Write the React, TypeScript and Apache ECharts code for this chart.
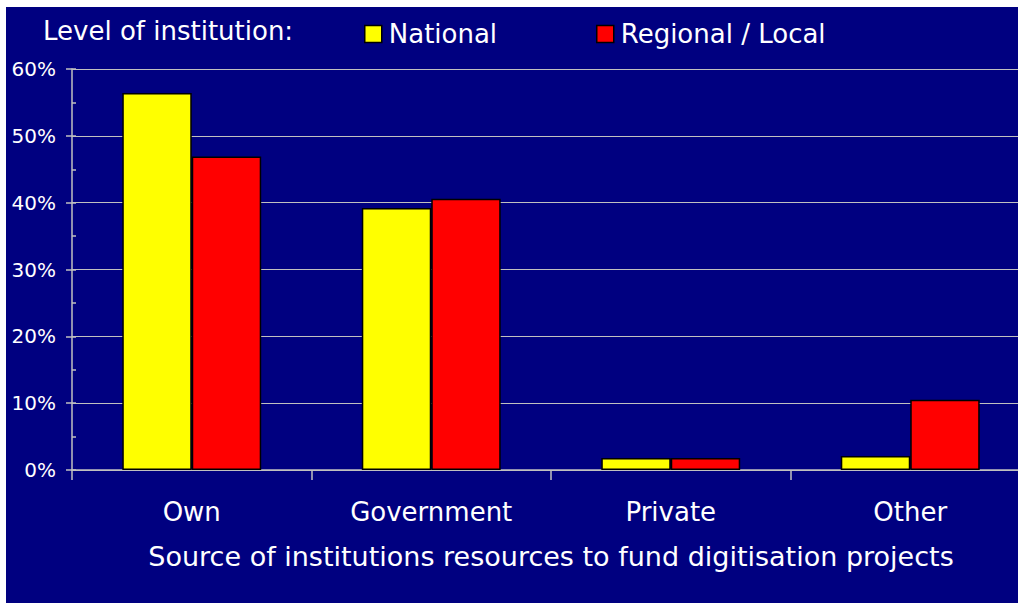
import React, { useEffect, useRef } from "react";
import * as echarts from "echarts";

const categories = ["Own", "Government", "Private", "Other"];
const nationalValues = [56.4, 39.2, 1.8, 2.1];
const regionalValues = [46.9, 40.6, 1.8, 10.5];
const seriesNames = ["National", "Regional / Local"];
const yTickValues = [0, 10, 20, 30, 40, 50, 60];
const titleText = "Level of institution:";
const xAxisTitle = "Source of institutions resources to fund digitisation projects";

const FONT = "'DejaVu Sans', Verdana, sans-serif";
const TXT = "#ffffff";
const GRID = "#c0c0c0";

export default function App() {
  const ref = useRef<HTMLDivElement>(null);
  useEffect(() => {
    if (!ref.current) return;
    const chart = echarts.init(ref.current, undefined, { renderer: "svg" });
    const yMax = yTickValues[yTickValues.length - 1];
    chart.setOption({
      animation: false,
      backgroundColor: "#000080",
      textStyle: { fontFamily: FONT },
      title: {
        text: titleText,
        left: 32,
        top: 6,
        textStyle: { color: TXT, fontSize: 26, fontWeight: "normal", fontFamily: FONT },
      },
      legend: [
        {
          data: [seriesNames[0]],
          left: 353,
          top: 9,
          itemWidth: 17,
          itemHeight: 17,
          itemGap: 10,
          icon: "rect",
          textStyle: { color: TXT, fontSize: 26, fontFamily: FONT, padding: [0, 0, 0, 2] },
          itemStyle: { borderColor: "#000", borderWidth: 1.5 },
        },
        {
          data: [seriesNames[1]],
          left: 585,
          top: 9,
          itemWidth: 17,
          itemHeight: 17,
          icon: "rect",
          textStyle: { color: TXT, fontSize: 26, fontFamily: FONT, padding: [0, 0, 0, 2] },
          itemStyle: { borderColor: "#000", borderWidth: 1.5 },
        },
      ],
      grid: { left: 66, top: 62, bottom: 133, right: 16, containLabel: false },
      xAxis: {
        type: "category",
        data: categories,
        axisLine: { show: true, lineStyle: { color: GRID, width: 1.5 } },
        axisTick: { show: true, length: 10, lineStyle: { color: GRID, width: 1.5 } },
        axisLabel: { color: TXT, fontSize: 26, fontFamily: FONT, margin: 29 },
        name: xAxisTitle,
        nameLocation: "middle",
        nameGap: 73,
        nameTextStyle: { color: TXT, fontSize: 27, fontFamily: FONT },
      },
      yAxis: [
        {
          type: "value",
          min: 0,
          max: yMax,
          interval: 10,
          axisLine: { show: true, lineStyle: { color: GRID, width: 1.5 } },
          axisTick: { show: true, length: 6, lineStyle: { color: GRID, width: 1.5 } },
          axisLabel: { color: TXT, fontSize: 20, fontFamily: FONT, margin: 16, formatter: "{value}%" },
          splitLine: { show: true, lineStyle: { color: GRID, width: 1.2 } },
        },
        {
          type: "value",
          position: "left",
          min: 0,
          max: yMax,
          interval: 5,
          axisLine: { show: false },
          axisTick: { show: true, inside: true, length: 4, lineStyle: { color: GRID, width: 1.5 } },
          axisLabel: { show: false },
          splitLine: { show: false },
        },
      ],
      series: [
        {
          name: seriesNames[0],
          type: "bar",
          data: nationalValues,
          barGap: "0%",
          barCategoryGap: "42%",
          itemStyle: { color: "#ffff00", borderColor: "#000", borderWidth: 1.5 },
        },
        {
          name: seriesNames[1],
          type: "bar",
          data: regionalValues,
          barGap: "0%",
          barCategoryGap: "42%",
          itemStyle: { color: "#ff0000", borderColor: "#000", borderWidth: 1.5 },
        },
      ],
    });
    return () => chart.dispose();
  }, []);
  return (
    <div
      style={{
        position: "fixed",
        left: 0,
        top: 0,
        width: 1018,
        height: 603,
        overflow: "hidden",
        background: "#ffffff",
      }}
    >
      <div ref={ref} style={{ position: "absolute", left: 6, top: 7, width: 1040, height: 596 }} />
    </div>
  );
}
